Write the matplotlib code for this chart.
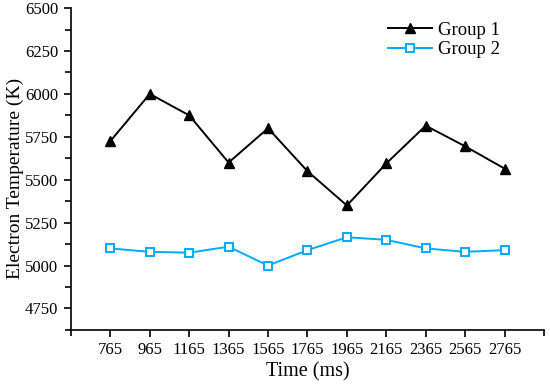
import numpy as np
import matplotlib
matplotlib.use('Agg')
import matplotlib.pyplot as plt

plt.rcParams['font.family'] = ['Liberation Serif', 'DejaVu Serif']

time = [765, 965, 1165, 1365, 1565, 1765, 1965, 2165, 2365, 2565, 2765]
group1 = [5725, 6000, 5875, 5600, 5800, 5550, 5350, 5595, 5815, 5695, 5565]
group2 = [5100, 5080, 5075, 5110, 5000, 5090, 5165, 5150, 5100, 5080, 5090]
xlabels = [str(t) for t in time]
yticks = [4750, 5000, 5250, 5500, 5750, 6000, 6250, 6500]

fig = plt.figure(figsize=(5.5, 3.85), dpi=100)
ax = fig.add_axes([0.129, 0.143, 0.86, 0.836])

ax.plot(time, group1, color='black', lw=1.4, marker='^', ms=7.5, label='Group 1')
ax.plot(time, group2, color='#00AAFF', lw=1.4, marker='s', ms=5.5,
        mfc='white', mew=1.4, label='Group 2')

ax.set_xlim(565, 2965)
ax.set_ylim(4625, 6500)
ax.set_xticks(time)
ax.set_xticklabels(xlabels)
ax.set_xticks(np.arange(565, 2966, 200), minor=True)
ax.set_yticks(yticks)
ax.set_yticks(np.arange(4625, 6500, 250), minor=True)

for s in ['top', 'right']:
    ax.spines[s].set_visible(False)
ax.spines['left'].set_linewidth(1.2)
ax.spines['bottom'].set_linewidth(1.2)
ax.tick_params(which='both', direction='out', width=1.2, labelsize=12)
ax.tick_params(which='major', length=5, pad=4)
ax.tick_params(which='minor', length=4)

ax.set_xlabel('Time (ms)', fontsize=14.5, labelpad=3)
ax.set_ylabel('Electron Temperature (K)', fontsize=14)
ax.yaxis.set_label_coords(-0.10, 0.47)

ax.legend(loc='upper left', bbox_to_anchor=(0.67, 0.958), frameon=False,
          fontsize=13.5, handlelength=2.35, handletextpad=0.3, labelspacing=0.12,
          borderpad=0, borderaxespad=0)

fig.savefig('out.png', dpi=100)
